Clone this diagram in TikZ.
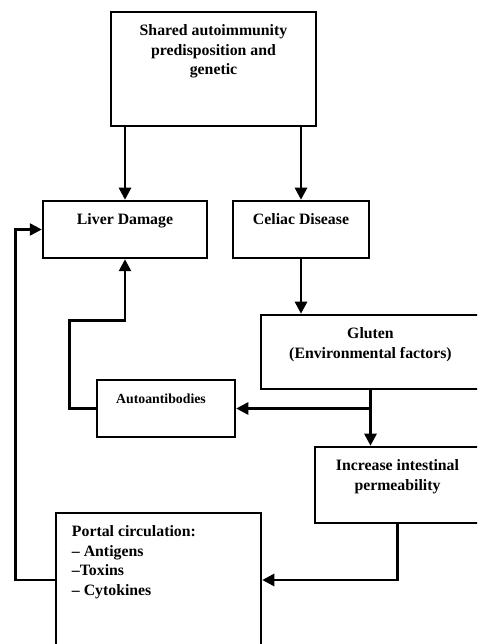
\documentclass[tikz,border=0pt]{standalone}
\usepackage{fontspec}
\setmainfont{Liberation Serif}
\usepackage{tikz}
\usetikzlibrary{positioning, arrows.meta}

\begin{document}
\begin{tikzpicture}[
    x=1pt, y=1pt,
    box/.style={rectangle, draw, line width=2.5pt, inner sep=0pt},
    txt/.style={inner sep=0pt, align=center, font=\bfseries\fontsize{15.8}{19.5}\selectfont},
    arrow/.style={-{Triangle[length=12pt, width=12pt]}, line width=2.6pt}
]
\useasboundingbox (0,0) rectangle (477,644);
\clip (0,0) rectangle (477,644);

% Boxes
\node[box, minimum width=205pt, minimum height=114pt] (shared) at (213.5,575) {};
\node[box, minimum width=164pt, minimum height=57pt] (liver) at (125,414.5) {};
\node[box, minimum width=136pt, minimum height=57pt] (celiac) at (301,414.5) {};
\node[box, minimum width=219pt, minimum height=74pt] (gluten) at (370.5,292) {};
\node[box, minimum width=138pt, minimum height=57pt] (auto) at (166,235.5) {};
\node[box, minimum width=165pt, minimum height=76pt] (increase) at (397.5,159) {};
\node[box, minimum width=205pt, minimum height=134pt] (portal) at (158.5,64) {};

% Texts
\node[txt, below=14pt of shared.north] (sharedtxt) {Shared autoimmunity\\predisposition and\\genetic};
\node[txt, below=14pt of liver.north] (livertxt) {Liver Damage};
\node[txt, below=14pt of celiac.north] (celiactxt) {Celiac Disease};
\node[txt, below=14pt of gluten.north] (glutentxt) {Gluten\\(Environmental factors)};
\node[txt, font=\bfseries\fontsize{13.8}{18}\selectfont, below=15pt of auto.north, xshift=-5pt] (autotxt) {Autoantibodies};
\node[txt, below=14pt of increase.north] (increasetxt) {Increase intestinal\\permeability};
\node[txt, align=left, below right=14pt and 17pt of portal.north west] (portaltxt) {Portal circulation:\\-- Antigens\\--Toxins\\-- Cytokines};

% Arrows
\coordinate (split) at (gluten.south |- auto.east);
\draw[arrow] (shared.south -| liver.north) -- (liver.north);
\draw[arrow] (shared.south -| celiac.north) -- (celiac.north);
\draw[arrow] (celiac.south) -- (celiac.south |- gluten.north);
\draw[arrow] (gluten.south) -- (gluten.south |- increase.north);
\draw[arrow] (split) -- (auto.east);
\draw[arrow] (auto.west) -- ++(-26,0) |- ([yshift=-61pt]liver.south) -- (liver.south);
\draw[arrow] (increase.south) |- (portal.east);
\draw[arrow] (portal.west) -- ++(-39,0) |- (liver.west);

\end{tikzpicture}
\end{document}
